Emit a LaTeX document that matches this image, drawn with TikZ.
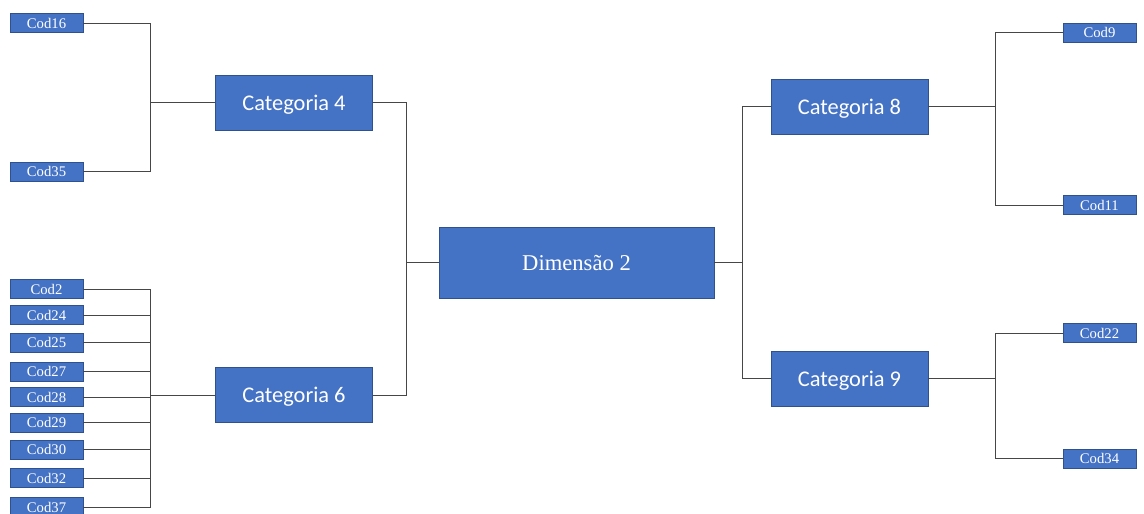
\documentclass[tikz,border=0pt]{standalone}
\usepackage{fontspec}
\setmainfont{Liberation Serif}
\newfontfamily\catfont{Carlito}
\definecolor{boxblue}{RGB}{68,114,196}
\definecolor{boxedge}{RGB}{47,82,143}
\definecolor{wire}{RGB}{70,70,70}
\tikzset{
  blk/.style={fill=boxblue, draw=boxedge, line width=0.6pt, text=white, inner sep=0pt, anchor=center},
  codbox/.style={blk, minimum width=73pt, minimum height=19pt, font=\fontsize{14.7}{16}\selectfont},
  catbox/.style={blk, minimum width=157pt, minimum height=55pt, text depth=0pt, font=\catfont\fontsize{22.4}{26}\selectfont},
  dimbox/.style={blk, minimum width=275pt, minimum height=71pt, font=\fontsize{22.6}{26}\selectfont},
  link/.style={draw=wire, line width=1pt}
}
\begin{document}
\begin{tikzpicture}[x=1pt,y=-1pt]
\useasboundingbox (0,0) rectangle (1144,514);

% central dimension
\node[dimbox] (dim) at (576.5,262.5) {Dimensão 2};

% categories
\node[catbox] (cat4) at (294,102.5) {Categoria 4};
\node[catbox] (cat6) at (294,395) {Categoria 6};
\node[catbox] (cat8) at (849.5,106.5) {Categoria 8};
\node[catbox] (cat9) at (849.5,378.5) {Categoria 9};

% codes, left column
\node[codbox] (c16) at (46.5,23) {Cod16};
\node[codbox] (c35) at (46.5,171.5) {Cod35};
\node[codbox] (c2)  at (46.5,289) {Cod2};
\node[codbox] (c24) at (46.5,315) {Cod24};
\node[codbox] (c25) at (46.5,342.5) {Cod25};
\node[codbox] (c27) at (46.5,371.5) {Cod27};
\node[codbox] (c28) at (46.5,397) {Cod28};
\node[codbox] (c29) at (46.5,422.5) {Cod29};
\node[codbox] (c30) at (46.5,449.5) {Cod30};
\node[codbox] (c32) at (46.5,478) {Cod32};
\node[codbox] (c37) at (46.5,507) {Cod37};

% codes, right column
\node[codbox] (c9)  at (1099.5,32.5) {Cod9};
\node[codbox] (c11) at (1099.5,205) {Cod11};
\node[codbox] (c22) at (1099.5,333) {Cod22};
\node[codbox] (c34) at (1099.5,458.5) {Cod34};

% junction points of the elbow connectors
\coordinate (j4) at (150,102.5);
\coordinate (j6) at (150,395);
\coordinate (jl) at (406,262.5);
\coordinate (jr) at (742,262.5);
\coordinate (j8) at (995,106.5);
\coordinate (j9) at (995,378.5);

% left branches
\foreach \c in {c16,c35} \draw[link] (\c.east) -| (j4);
\draw[link] (j4) -- (cat4.west);
\foreach \c in {c2,c24,c25,c27,c28,c29,c30,c32,c37} \draw[link] (\c.east) -| (j6);
\draw[link] (j6) -- (cat6.west);
\draw[link] (cat4.east) -| (jl);
\draw[link] (cat6.east) -| (jl);
\draw[link] (jl) -- (dim.west);

% right branches
\draw[link] (dim.east) -- (jr);
\draw[link] (jr) |- (cat8.west);
\draw[link] (jr) |- (cat9.west);
\draw[link] (cat8.east) -- (j8);
\draw[link] (j8) |- (c9.west);
\draw[link] (j8) |- (c11.west);
\draw[link] (cat9.east) -- (j9);
\draw[link] (j9) |- (c22.west);
\draw[link] (j9) |- (c34.west);
\end{tikzpicture}
\end{document}
